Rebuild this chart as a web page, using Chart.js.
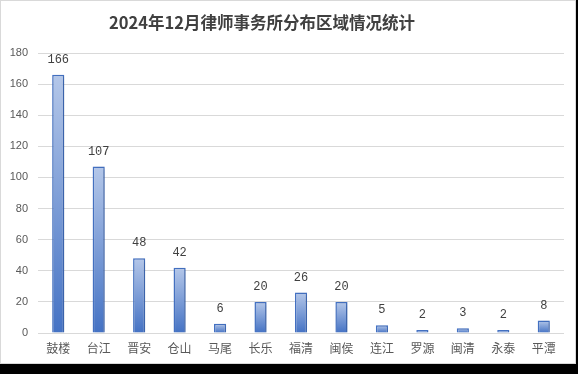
<!DOCTYPE html>
<html>
<head>
<meta charset="utf-8">
<script src="https://cdn.jsdelivr.net/npm/chart.js@4"></script>
<style>
  html, body { margin: 0; padding: 0; background: #000; }
  #box {
    position: absolute; left: 0; top: 0;
    width: 576px; height: 364px;
    box-sizing: border-box;
    border: 1px solid #d9d9d9;
    background: #fff;
  }
  #title {
    position: absolute; left: 0; top: 9px; width: 522px;
    text-align: center;
    font: bold 16.5px "Noto Sans CJK SC", sans-serif;
    color: #404040;
  }
  canvas { position: absolute; left: 0; top: 0; }
</style>
</head>
<body>
<div id="box">
  <canvas id="chart" width="576" height="364"></canvas>
  <div id="title">2024年12月律师事务所分布区域情况统计</div>
</div>
<script>
const categories = ["鼓楼", "台江", "晋安", "仓山", "马尾", "长乐", "福清", "闽侯", "连江", "罗源", "闽清", "永泰", "平潭"];
const counts = [166, 107, 48, 42, 6, 20, 26, 20, 5, 2, 3, 2, 8];
const yTicks = [0, 20, 40, 60, 80, 100, 120, 140, 160, 180];

function barFill(c) {
  const chart = c.chart;
  if (!chart.chartArea || c.raw == null) return "#4472c4";
  const y = chart.scales.y;
  const top = y.getPixelForValue(c.raw);
  const bottom = y.getPixelForValue(0);
  const g = chart.ctx.createLinearGradient(0, top, 0, bottom);
  g.addColorStop(0, "#b4c7e9");
  g.addColorStop(1, "#4472c4");
  return g;
}

const shadowPlugin = {
  id: "barShadow",
  beforeDatasetsDraw(chart) {
    const ctx = chart.ctx;
    ctx.save();
    ctx.shadowColor = "rgba(0,0,0,0.18)";
    ctx.shadowBlur = 4;
    ctx.shadowOffsetX = 2;
    ctx.shadowOffsetY = 1;
  },
  afterDatasetsDraw(chart) {
    chart.ctx.restore();
  }
};

const labelPlugin = {
  id: "valueLabels",
  afterDatasetsDraw(chart) {
    const ctx = chart.ctx;
    const meta = chart.getDatasetMeta(0);
    ctx.save();
    ctx.font = "12px 'Liberation Mono'";
    ctx.fillStyle = "#404040";
    ctx.textAlign = "center";
    ctx.textBaseline = "alphabetic";
    meta.data.forEach((bar, i) => {
      ctx.fillText(String(counts[i]), bar.x, bar.y - 12);
    });
    ctx.restore();
  }
};

new Chart(document.getElementById("chart"), {
  type: "bar",
  data: {
    labels: categories,
    datasets: [{
      data: counts,
      backgroundColor: barFill,
      borderColor: "#4472c4",
      borderWidth: 1.5,
      barPercentage: 0.3,
      categoryPercentage: 1
    }]
  },
  options: {
    responsive: false,
    animation: false,
    layout: { padding: { left: 0, right: 13, top: 52, bottom: 0 } },
    plugins: { legend: { display: false }, tooltip: { enabled: false } },
    scales: {
      x: {
        grid: { display: false, drawTicks: false },
        border: { display: false },
        ticks: { color: "#595959", font: { family: "Noto Sans CJK SC", size: 12 }, padding: 8, maxRotation: 0 },
        afterFit(s) { s.height = 32; }
      },
      y: {
        min: 0, max: 180,
        afterBuildTicks(s) { s.ticks = yTicks.map(v => ({ value: v })); },
        grid: { color: "#d9d9d9", lineWidth: 1, drawTicks: false },
        border: { display: false },
        ticks: { color: "#595959", font: { family: "Liberation Sans", size: 11 }, padding: 10 },
        afterFit(s) { s.width = 37; }
      }
    }
  },
  plugins: [shadowPlugin, labelPlugin]
});
</script>
</body>
</html>
